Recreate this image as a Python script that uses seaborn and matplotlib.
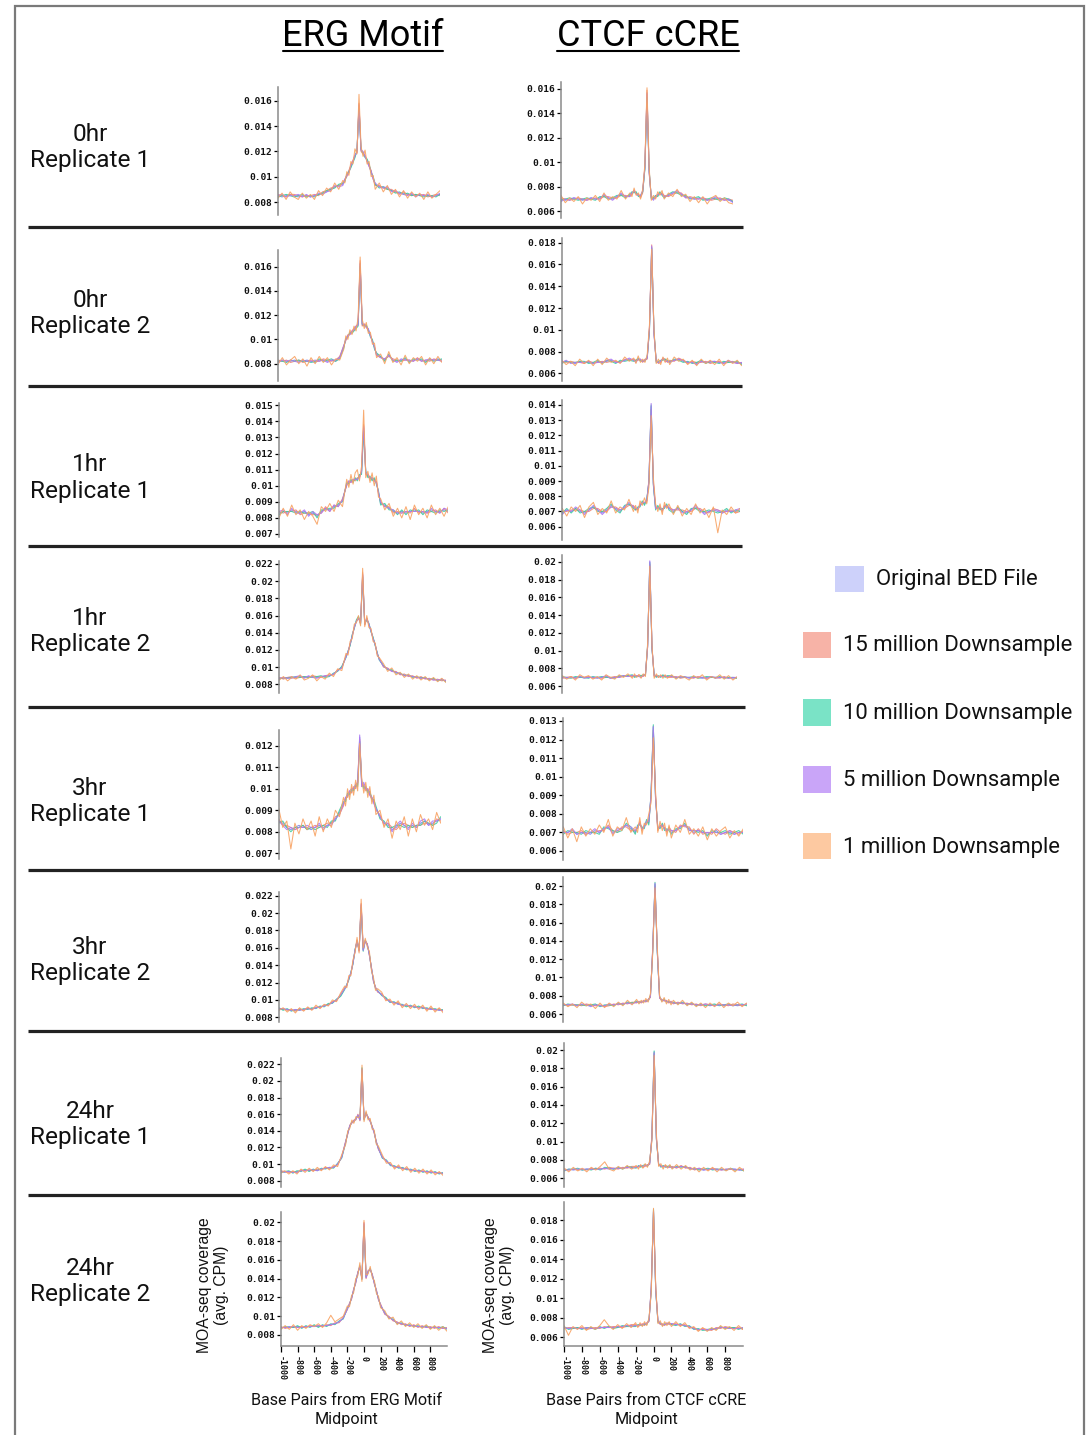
import numpy as np
import pandas as pd
import matplotlib
matplotlib.use("Agg")
import matplotlib.pyplot as plt
from matplotlib.patches import Rectangle
from matplotlib.ticker import FixedLocator, FuncFormatter
import seaborn as sns

# ---------------------------------------------------------------- data
# x positions (base pairs from midpoint)
BP = [-1000, -950, -900, -850, -800, -750, -700, -650, -600, -550, -500, -450, -400, -350, -300, -250,
      -200, -175, -150, -125, -100, -75, -50, -25, 0, 25, 50, 75, 100, 125, 150, 175, 200,
      250, 300, 350, 400, 450, 500, 550, 600, 650, 700, 750, 800, 850, 900, 950, 1000]

SERIES = ["Original BED File", "15 million Downsample", "10 million Downsample",
          "5 million Downsample", "1 million Downsample"]

ROW_LABELS = ["0hr\nReplicate 1", "0hr\nReplicate 2", "1hr\nReplicate 1", "1hr\nReplicate 2",
              "3hr\nReplicate 1", "3hr\nReplicate 2", "24hr\nReplicate 1", "24hr\nReplicate 2"]
COL_TITLES = ["ERG Motif", "CTCF cCRE"]
X_TICKS = [-1000, -800, -600, -400, -200, 0, 200, 400, 600, 800]
Y_LABEL = "MOA-seq coverage\n(avg. CPM)"
X_LABELS = ["Base Pairs from ERG Motif\nMidpoint", "Base Pairs from CTCF cCRE\nMidpoint"]

# coverage values, in units of 1e-4 CPM; order: Original, 15M, 10M, 5M, 1M
ERG_0HR_R1 = [
    [85,84,85,86,85,84,85,85,84,85,86,87,88,90,92,93, 94,97,101,104,108,112,116,120,156,121,119,116,113,109,104,99,94, 92,92,91,89,88,87,87,86,86,85,86,85,85,84,85,86],
    [86,85,84,86,86,85,84,85,85,86,85,88,89,91,92,93, 95,98,100,105,109,113,117,119,158,120,118,117,112,108,105,98,93, 93,91,90,90,88,86,88,86,85,86,85,86,84,85,86,85],
    [84,85,86,85,84,85,86,84,85,84,86,87,89,90,91,94, 95,96,102,104,107,111,115,121,154,122,118,115,114,110,103,100,94, 91,92,90,89,87,88,86,87,85,86,85,84,85,85,84,86],
    [85,86,84,85,85,86,84,86,84,85,87,86,88,89,93,92, 93,98,101,103,109,112,117,119,157,121,120,116,112,108,104,98,95, 92,91,92,88,89,87,86,85,87,84,86,85,86,84,85,87],
    [83,87,82,88,84,82,87,83,86,82,89,85,91,88,95,90, 97,95,104,101,112,110,122,118,165,124,116,121,110,112,100,101,90, 95,88,93,86,90,84,89,83,88,84,87,82,88,83,86,89],
]
CTCF_0HR_R1 = [
    [70,69,70,71,70,69,70,71,70,71,73,71,70,72,74,72, 73,75,76,75,73,72,76,95,157,93,71,70,72,73,75,74,72, 73,75,76,74,72,71,70,71,70,69,70,71,70,70,69,68],
    [71,70,69,70,71,70,69,70,71,70,72,72,71,71,73,73, 72,74,77,74,74,71,75,96,159,91,72,71,71,74,74,75,73, 72,74,75,75,71,72,71,70,71,70,69,70,71,69,70,69],
    [69,70,71,70,69,70,71,70,69,72,72,70,71,73,73,71, 74,76,75,76,72,73,76,94,153,94,70,71,73,72,76,73,71, 74,76,75,73,73,70,71,72,69,70,71,70,69,71,70,68],
    [68,70,69,71,70,70,69,71,70,70,74,71,69,72,75,72, 72,75,77,74,73,73,77,96,156,92,71,69,72,74,74,74,72, 73,75,77,74,71,71,70,70,71,69,70,72,70,69,70,67],
    [73,67,71,68,72,66,71,69,73,68,75,69,72,70,77,70, 75,72,79,73,75,70,78,98,161,96,69,73,70,76,73,77,70, 75,72,78,72,74,68,72,67,72,66,71,73,68,71,67,66],
]
ERG_0HR_R2 = [
    [82,83,82,82,83,82,82,83,82,81,83,83,82,83,82,85, 94,100,103,105,106,108,110,112,163,112,112,111,108,103,99,93,88, 86,83,87,83,82,83,84,82,83,84,83,82,83,83,84,83],
    [83,82,83,81,82,83,81,82,83,82,82,84,83,82,83,86, 95,99,104,104,107,109,111,113,165,111,113,110,107,104,98,94,87, 85,84,86,84,83,82,83,83,82,85,82,83,82,84,83,82],
    [82,82,81,83,82,83,82,82,81,82,84,82,83,84,82,84, 93,101,102,106,105,107,109,111,160,113,111,112,108,102,100,92,89, 86,82,88,82,83,82,85,81,84,83,84,81,84,82,83,84],
    [81,83,82,83,82,81,83,82,82,83,82,83,81,83,83,85, 95,100,103,104,107,108,111,112,162,113,112,110,109,103,98,94,87, 85,84,87,83,81,84,83,83,82,84,82,83,84,83,83,82],
    [80,85,79,83,86,80,84,78,85,80,86,81,85,79,84,83, 92,103,100,108,104,111,107,118,168,117,109,114,105,106,96,97,85, 88,80,90,81,85,79,87,80,85,82,86,79,85,80,86,81],
]
CTCF_0HR_R2 = [
    [70,71,70,69,71,70,70,69,71,70,71,72,70,71,72,73, 72,71,73,72,71,72,74,100,176,98,71,70,71,73,72,71,71, 72,73,71,70,70,69,71,70,70,71,70,70,71,70,70,69],
    [71,70,71,70,70,69,71,70,70,71,70,71,71,70,73,72, 73,72,72,73,70,73,73,102,178,97,72,69,70,74,73,70,72, 71,74,72,69,71,70,70,71,69,70,71,69,70,71,69,70],
    [69,71,70,70,71,71,69,70,72,69,72,71,69,72,71,72, 71,72,74,71,72,71,75,99,175,99,70,71,72,72,73,72,70, 73,72,70,71,69,70,72,69,71,70,69,71,70,70,71,68],
    [70,72,69,70,70,70,71,69,70,70,72,73,70,70,72,74, 72,70,73,73,71,72,74,101,177,96,71,70,71,74,71,71,70, 72,73,72,70,70,68,71,70,71,71,70,69,72,70,69,70],
    [72,68,71,67,73,69,72,67,73,68,74,70,72,69,75,71, 74,69,76,70,73,70,77,104,174,101,69,73,68,75,70,74,68, 75,71,73,68,72,67,73,69,72,68,73,67,72,69,72,67],
]
ERG_1HR_R1 = [
    [83,84,83,85,84,83,84,82,83,81,84,86,85,87,88,91, 101,102,103,103,104,104,106,108,136,108,106,105,104,104,102,96,89, 88,86,84,83,84,83,84,85,84,83,84,85,84,84,85,84],
    [84,83,84,84,85,82,83,83,82,82,83,87,84,88,87,92, 100,103,102,104,103,105,105,109,138,107,107,104,105,103,103,95,90, 87,87,83,84,83,84,83,86,83,84,83,84,85,83,86,83],
    [82,84,84,84,83,84,83,83,84,80,85,85,86,86,89,90, 102,101,104,102,105,103,107,107,134,109,105,106,103,105,101,97,88, 89,85,85,82,85,82,85,84,85,82,85,84,83,85,84,85],
    [84,85,82,86,83,83,85,81,84,82,83,86,84,88,87,91, 101,103,102,104,104,104,105,109,137,108,107,105,105,103,102,96,90, 87,86,85,83,83,84,84,84,84,84,83,86,84,83,86,85],
    [80,86,81,88,82,85,79,84,81,76,87,84,89,84,91,87, 104,99,107,101,108,110,103,112,147,105,109,102,108,100,106,93,92, 85,89,81,86,80,87,79,88,82,86,80,88,82,86,81,87],
]
CTCF_1HR_R1 = [
    [69,71,70,72,70,69,71,73,71,69,71,74,72,70,73,75, 73,71,72,74,76,75,77,90,139,88,72,73,72,71,73,74,72, 70,72,70,69,71,73,71,69,70,71,70,69,71,70,70,71],
    [70,70,71,71,71,70,70,72,72,70,70,73,73,71,72,74, 74,72,71,75,75,76,76,91,137,89,73,72,73,70,74,73,73, 71,71,71,70,70,72,72,70,69,72,71,70,70,71,69,70],
    [69,72,69,72,69,70,72,73,70,70,72,75,71,69,74,75, 72,71,73,73,77,74,78,89,140,87,71,74,71,72,72,75,71, 69,73,70,68,72,72,70,70,71,70,69,70,72,69,71,70],
    [68,71,70,73,71,68,71,74,71,68,71,73,72,71,73,76, 73,72,72,74,76,76,77,90,141,88,72,72,73,71,73,74,72, 71,72,69,70,71,74,71,68,70,71,71,69,70,70,71,72],
    [72,67,73,70,74,66,73,76,68,72,69,77,69,73,71,78, 70,74,69,77,74,79,75,86,133,92,75,70,75,68,76,72,75, 68,74,67,72,68,75,69,72,66,73,56,71,68,73,69,72],
]
ERG_1HR_R2 = [
    [87,87,88,88,88,89,88,89,89,88,89,89,90,92,96,100, 112,118,126,137,146,154,158,151,207,150,156,150,142,134,126,116,109, 101,98,96,94,92,91,90,89,88,88,87,86,86,85,85,84],
    [88,86,88,89,87,88,89,88,90,89,88,90,91,91,97,99, 113,117,127,136,147,153,157,152,210,149,157,149,143,133,127,115,110, 100,99,95,95,91,92,89,90,87,89,86,87,85,86,84,85],
    [86,88,87,88,89,88,89,88,88,89,90,88,89,93,95,101, 111,119,125,138,145,155,159,150,205,151,155,151,141,135,125,117,108, 102,97,97,93,93,90,91,88,89,87,88,85,87,84,86,83],
    [87,88,87,87,89,90,87,90,88,87,89,90,90,92,96,99, 112,118,127,136,146,153,157,151,208,150,157,150,142,133,126,116,109, 101,98,95,94,92,90,90,89,88,87,87,86,85,85,86,84],
    [85,89,84,88,86,91,85,87,91,84,89,86,93,89,98,96, 116,114,130,133,150,152,160,148,215,147,160,146,145,130,128,113,111, 104,95,99,91,94,88,92,86,90,85,89,84,88,83,87,82],
]
CTCF_1HR_R2 = [
    [70,69,70,70,71,69,70,70,69,70,71,69,70,71,72,71, 72,71,72,72,71,72,73,105,200,103,72,71,71,71,72,71,71, 71,70,70,71,69,70,70,69,70,71,69,70,70,70,69,70],
    [69,70,71,69,70,70,71,69,70,69,70,70,71,70,71,72, 71,72,71,73,72,71,74,104,197,104,71,72,70,72,71,72,70, 70,71,69,70,70,69,71,70,69,70,70,69,71,69,70,69],
    [71,70,69,71,70,70,69,71,70,71,70,70,69,72,71,72, 73,70,71,71,72,73,72,106,199,102,73,70,72,70,73,70,72, 72,69,71,70,70,71,69,70,71,70,70,71,69,70,70,69],
    [70,70,70,69,71,70,70,70,70,70,72,69,70,70,72,71, 72,72,72,71,70,72,73,104,201,103,72,72,71,71,71,72,71, 71,70,71,70,70,70,70,70,69,71,70,70,70,69,70,70],
    [72,68,71,67,73,70,72,68,71,67,73,70,68,73,70,74, 69,74,70,73,69,74,71,108,195,106,69,74,70,73,69,73,69, 73,68,72,70,67,72,69,73,67,71,69,73,68,72,67,71],
]
ERG_3HR_R1 = [
    [85,84,82,81,82,83,82,82,81,82,83,82,83,84,86,89, 93,95,97,98,99,100,101,102,124,102,101,100,99,98,96,94,91, 87,84,83,81,82,84,83,82,83,82,84,85,83,84,85,86],
    [86,83,83,82,81,82,83,81,82,83,82,83,84,84,87,88, 92,96,96,99,98,101,100,103,123,101,102,99,100,97,95,94,90, 88,83,84,82,81,83,84,83,82,83,83,84,84,83,86,85],
    [84,85,82,80,82,82,83,81,82,81,82,83,82,85,85,90, 94,94,98,97,100,99,102,101,122,103,100,101,98,99,95,95,92, 86,85,82,82,83,83,82,83,82,83,83,85,84,83,84,87],
    [85,83,81,82,81,82,82,83,82,82,84,81,83,83,86,88, 93,96,97,99,100,100,102,103,125,101,103,100,100,97,96,93,91, 87,84,84,80,83,85,83,81,84,82,85,86,83,85,85,86],
    [91,82,85,72,84,79,86,81,85,78,87,80,86,82,90,87, 96,92,100,95,102,97,104,99,121,105,98,103,96,101,93,97,88, 90,82,86,77,85,81,87,78,86,80,88,83,86,81,89,84],
]
CTCF_3HR_R1 = [
    [70,70,71,69,70,70,69,71,70,72,73,70,71,72,74,72, 70,73,75,72,73,76,75,90,127,89,72,73,74,72,71,72,70, 71,73,74,72,70,71,70,69,70,71,69,70,70,69,70,70],
    [71,69,70,70,71,69,70,70,71,71,74,71,70,73,73,71, 71,72,76,71,74,75,76,89,125,90,71,74,73,73,70,73,71, 70,74,73,73,69,72,69,70,69,72,70,69,71,70,69,71],
    [69,71,70,70,69,71,70,70,69,73,72,71,70,71,75,73, 69,74,74,73,72,77,74,91,128,88,73,72,75,71,72,71,69, 72,72,75,71,71,70,71,68,71,70,70,71,69,70,71,69],
    [70,70,72,69,70,69,70,72,70,72,73,69,72,72,74,73, 71,73,75,72,73,76,76,90,127,88,72,73,74,72,71,72,71, 71,73,74,71,71,71,70,70,70,70,69,70,71,69,70,70],
    [73,67,72,65,73,68,72,69,74,70,77,68,73,71,78,70, 73,70,78,69,75,74,80,86,121,92,70,76,71,75,68,74,67, 74,70,77,69,72,68,73,66,72,68,71,73,67,71,68,72],
]
ERG_3HR_R2 = [
    [90,89,89,88,88,89,89,90,90,91,92,93,95,97,100,105, 113,117,124,131,142,157,168,157,209,157,168,164,152,137,122,114,110, 106,102,98,97,96,94,93,93,92,92,91,90,90,89,89,88],
    [89,90,88,89,87,90,88,91,89,92,91,94,94,98,99,106, 114,116,125,130,143,156,169,156,211,158,167,165,151,138,121,115,109, 107,101,99,96,97,93,94,92,93,91,92,89,91,88,90,87],
    [91,88,90,87,89,88,90,89,91,90,93,92,96,96,101,104, 112,118,123,132,141,158,167,158,207,156,169,163,153,136,123,113,111, 105,103,97,98,95,95,92,94,91,93,90,91,89,90,88,89],
    [90,90,89,88,89,88,89,90,89,91,92,93,94,97,100,106, 113,117,125,131,142,157,168,157,210,157,168,164,152,137,122,114,110, 106,101,98,97,95,94,94,93,92,91,91,90,89,89,88,88],
    [88,91,86,90,85,91,87,92,88,94,90,95,93,100,98,108, 116,114,128,128,146,154,172,154,216,160,171,161,156,134,126,111,113, 109,99,101,94,99,91,96,90,95,89,94,87,93,86,91,85],
]
CTCF_3HR_R2 = [
    [70,70,70,69,70,70,69,70,69,69,70,70,71,71,72,72, 73,73,73,74,74,75,79,130,202,128,78,75,75,74,73,73,72, 72,72,71,71,70,70,70,69,70,70,69,70,70,69,70,70],
    [71,69,70,70,69,71,70,69,70,68,69,71,70,72,71,73, 72,74,72,75,73,76,78,132,200,130,77,76,74,75,72,74,71, 73,71,72,70,71,69,71,70,69,71,70,69,71,70,69,71],
    [69,71,70,70,70,69,70,71,68,70,70,69,72,70,73,72, 74,72,74,73,75,74,80,128,204,127,79,74,76,73,74,72,73, 71,73,70,72,69,71,69,70,71,69,70,71,69,70,71,69],
    [70,70,71,69,71,70,68,70,69,69,71,70,71,71,72,71, 73,73,73,74,74,75,79,131,203,129,78,75,75,74,73,73,72, 72,72,71,71,70,70,71,70,69,70,70,70,69,70,70,71],
    [72,68,71,67,73,69,71,66,72,67,72,68,73,69,75,70, 76,71,75,72,77,73,82,126,198,133,80,73,78,71,76,70,75, 70,75,69,73,68,72,67,72,68,73,67,72,69,73,68,72],
]
ERG_24HR_R1 = [
    [91,90,91,90,91,92,93,92,93,93,94,95,95,96,100,108, 127,137,146,150,152,154,159,153,215,154,161,156,152,145,138,127,119, 108,104,99,97,96,95,94,93,92,92,91,91,90,90,89,89],
    [92,91,90,91,90,93,92,93,92,94,93,96,94,97,99,109, 128,136,147,149,153,153,160,152,213,155,160,157,151,146,137,128,118, 109,103,100,96,97,94,95,92,93,91,92,90,91,89,90,88],
    [90,91,92,89,92,91,94,91,94,92,95,94,96,95,101,107, 126,138,145,151,151,155,158,154,216,153,162,155,153,144,139,126,120, 107,105,98,98,95,96,93,94,91,93,90,92,89,91,88,90],
    [91,91,91,90,90,92,92,93,93,92,94,95,96,96,100,108, 127,137,146,150,152,154,159,153,214,154,161,156,152,145,138,127,119, 108,104,99,97,96,95,94,93,92,92,91,91,90,90,89,89],
    [89,92,88,92,88,94,90,95,91,96,92,97,93,99,97,111, 124,140,143,153,149,157,156,157,219,151,164,153,155,142,141,124,122, 111,101,102,94,99,92,97,90,95,89,94,88,93,87,91,86],
]
CTCF_24HR_R1 = [
    [69,70,69,70,69,70,70,71,70,71,71,70,71,71,72,72, 72,73,73,73,74,74,76,105,198,103,75,73,73,73,72,73,72, 72,73,72,71,70,70,69,70,70,69,70,69,70,70,69,69],
    [70,69,70,69,70,69,71,70,71,70,72,71,70,72,71,73, 73,72,74,72,73,75,75,107,196,104,74,74,72,74,73,72,73, 71,74,71,72,69,71,70,69,71,70,69,70,70,69,70,70],
    [68,70,70,71,69,70,69,71,69,72,71,70,72,70,73,72, 71,74,72,74,75,73,77,103,199,102,76,72,74,72,73,74,71, 73,72,73,70,71,69,70,71,69,70,70,69,71,69,70,68],
    [69,69,70,70,70,70,70,70,70,71,70,71,71,71,72,71, 72,73,74,73,74,74,76,104,197,104,75,73,73,73,72,72,72, 72,73,72,71,70,71,69,70,70,70,69,70,70,70,69,70],
    [71,67,72,68,71,67,72,69,73,78,70,68,73,70,74,70, 74,70,75,71,76,72,79,101,194,108,73,76,70,75,71,75,70, 75,70,74,69,72,67,72,68,72,67,72,68,71,67,72,68],
]
ERG_24HR_R2 = [
    [88,88,89,88,89,88,89,89,90,89,90,90,91,92,94,98, 108,113,119,128,136,146,153,140,198,141,148,150,144,135,127,118,112, 103,99,96,93,92,91,90,90,89,89,89,88,88,88,88,87],
    [89,87,88,89,88,89,88,90,89,90,89,91,90,93,93,99, 107,114,118,129,135,147,152,141,200,140,149,149,145,134,128,117,113, 102,100,95,94,91,92,89,91,88,90,88,89,87,89,87,88],
    [87,89,88,88,90,87,90,88,91,88,91,89,92,91,95,97, 109,112,120,127,137,145,154,139,196,142,147,151,143,136,126,119,111, 104,98,97,92,93,90,91,89,90,88,90,87,89,87,89,86],
    [88,88,88,89,88,88,89,89,89,90,90,90,91,92,94,98, 108,113,119,128,136,146,153,140,199,141,148,150,144,135,127,118,112, 103,99,96,93,92,91,90,90,89,89,88,88,88,88,87,87],
    [86,90,86,91,85,90,87,91,89,92,88,93,101,94,97,100, 111,110,122,125,140,143,157,137,202,144,145,153,141,138,124,121,109, 106,97,99,91,95,89,93,88,92,87,91,86,90,85,89,84],
]
CTCF_24HR_R2 = [
    [70,69,69,70,69,69,70,69,70,70,71,70,70,71,72,72, 72,72,73,73,73,74,77,110,190,108,76,74,73,73,74,74,74, 73,73,72,71,69,68,68,67,68,69,70,70,69,70,69,69],
    [69,70,70,69,70,68,69,70,69,71,70,71,71,70,71,73, 73,71,72,74,72,75,76,112,188,109,77,73,74,72,75,73,73, 74,72,73,70,70,67,69,68,67,70,69,71,70,69,70,68],
    [71,68,69,70,68,70,70,68,71,69,71,69,70,72,71,71, 71,73,73,72,74,73,78,108,191,107,75,75,72,74,73,75,73, 72,74,71,72,68,69,67,68,69,68,71,69,70,70,68,70],
    [70,69,70,69,69,70,69,69,70,70,70,70,71,71,72,71, 72,72,73,73,74,74,77,111,189,108,76,74,73,73,74,74,74, 73,73,72,71,69,68,68,68,68,69,70,70,69,69,69,70],
    [72,62,71,68,72,67,71,68,72,78,72,68,73,69,74,70, 75,70,75,71,76,72,80,106,192,112,74,77,71,76,72,76,71, 76,71,75,69,71,66,70,66,70,67,72,68,71,67,72,68],
]

# ---------------------------------------------------------------- style / layout
LINE_COLORS = ["#7d84ee", "#f08676", "#3fcc9f", "#ac78f3", "#f8a262"]
LEGEND_COLORS = ["#cdd1fa", "#f7b3a7", "#7ae3c6", "#c9a5f8", "#fdc9a1"]

# (left, right, top, bottom) in px, then two tick anchors (value, px) and tick step
LAYOUT = [
    [(278.0, 440.0, 87.0, 215.0, 0.016, 100.7, 0.008, 202.0, 0.002),
     (561.0, 733.0, 82.0, 218.0, 0.016, 89.0, 0.006, 211.3, 0.002)],
    [(278.3, 442.0, 250.0, 381.0, 0.016, 266.7, 0.008, 363.7, 0.002),
     (561.7, 741.7, 238.3, 381.0, 0.018, 242.7, 0.006, 373.3, 0.002)],
    [(279.0, 448.3, 403.3, 536.7, 0.015, 405.3, 0.007, 534.0, 0.001),
     (562.3, 740.0, 400.0, 540.0, 0.014, 405.0, 0.006, 526.7, 0.001)],
    [(279.3, 446.0, 560.7, 693.3, 0.022, 564.0, 0.008, 684.3, 0.002),
     (562.3, 737.3, 555.0, 693.3, 0.020, 561.7, 0.006, 686.3, 0.002)],
    [(278.7, 440.7, 730.0, 859.0, 0.012, 745.7, 0.007, 853.3, 0.001),
     (563.3, 743.3, 718.3, 860.0, 0.013, 721.0, 0.006, 851.0, 0.001)],
    [(279.0, 443.3, 891.7, 1021.7, 0.022, 895.7, 0.008, 1017.3, 0.002),
     (563.3, 746.7, 876.7, 1021.7, 0.020, 886.0, 0.006, 1014.0, 0.002)],
    [(280.7, 443.3, 1058.3, 1186.7, 0.022, 1064.3, 0.008, 1180.7, 0.002),
     (564.3, 744.0, 1043.3, 1186.7, 0.020, 1050.0, 0.006, 1178.3, 0.002)],
    [(281.0, 447.0, 1211.7, 1346.0, 0.020, 1222.3, 0.008, 1335.0, 0.002),
     (564.0, 743.0, 1201.7, 1346.0, 0.018, 1220.0, 0.006, 1337.3, 0.002)],
]
PANEL_DATA = [
    (ERG_0HR_R1, CTCF_0HR_R1), (ERG_0HR_R2, CTCF_0HR_R2),
    (ERG_1HR_R1, CTCF_1HR_R1), (ERG_1HR_R2, CTCF_1HR_R2),
    (ERG_3HR_R1, CTCF_3HR_R1), (ERG_3HR_R2, CTCF_3HR_R2),
    (ERG_24HR_R1, CTCF_24HR_R1), (ERG_24HR_R2, CTCF_24HR_R2),
]
ROW_CENTERS = [147.5, 313.5, 478, 631.5, 801.5, 960.5, 1124.5, 1281.5]
SEP_Y = [227, 386, 545.5, 707, 870, 1031, 1195]
SEP_RIGHT = [743, 742, 742, 745, 748, 745, 745]

sns.set_theme(style="white")
plt.rcParams['font.family'] = ['Roboto', 'DejaVu Sans']
MONO = 'DejaVu Sans Mono'

W, H = 1091, 1435
fig = plt.figure(figsize=(W / 100, H / 100), dpi=100)

ov = fig.add_axes([0, 0, 1, 1])
ov.set_xlim(0, W)
ov.set_ylim(H, 0)
ov.axis('off')
ov.patch.set_alpha(0)

# border
ov.plot([14.5, 14.5, 1083.5, 1083.5], [H + 5, 6, 6, H + 5], color='#7a7a7a', lw=1.6,
        solid_joinstyle='miter')

# column titles with underline
for title, cx, (ux0, ux1) in zip(COL_TITLES, [363, 648], [(283, 443), (557, 739)]):
    ov.text(cx, 46.5, title, ha='center', va='baseline', fontsize=26, color='black')
    ov.plot([ux0, ux1], [51, 51], color='black', lw=1.5)

# row labels
for lab, cy in zip(ROW_LABELS, ROW_CENTERS):
    ov.text(90, cy, lab, ha='center', va='center', fontsize=17.6, linespacing=1.2, color='#111')

# separators
for y, xr in zip(SEP_Y, SEP_RIGHT):
    ov.plot([28, xr], [y, y], color='#222222', lw=2.3, solid_capstyle='butt')

# legend
legend_pos = [(835, 876), (802.5, 843), (802.5, 843), (802.5, 843), (802.5, 843)]
legend_cy = [579, 645, 712.5, 779.5, 846]
for name, col, (sx, tx), cy in zip(SERIES, LEGEND_COLORS, legend_pos, legend_cy):
    ov.add_patch(Rectangle((sx, cy - 13.2), 28.5, 26.4, facecolor=col, edgecolor='none'))
    ov.text(tx, cy + 1, name, ha='left', va='center', fontsize=15.9, color='#111')

fmt = FuncFormatter(lambda v, p: f"{v:.3f}".rstrip('0'))

for r, (pair, lay_pair) in enumerate(zip(PANEL_DATA, LAYOUT)):
    for c, (data, lay) in enumerate(zip(pair, lay_pair)):
        left, right, top, bottom, vhi, phi, vlo, plo, step = lay
        ax = fig.add_axes([left / W, 1 - bottom / H, (right - left) / W, (bottom - top) / H])
        ax.patch.set_alpha(0)
        rows = []
        for name, vals in zip(SERIES, data):
            assert len(vals) == len(BP), (r, c, name, len(vals))
            for x, v in zip(BP, vals):
                rows.append((x, v * 1e-4, name))
        df = pd.DataFrame(rows, columns=['bp', 'cov', 'series'])
        sns.lineplot(data=df, x='bp', y='cov', hue='series', hue_order=SERIES,
                     palette=dict(zip(SERIES, LINE_COLORS)), ax=ax, legend=False,
                     linewidth=0.75, alpha=0.9, errorbar=None, estimator=None)
        s = (vhi - vlo) / (plo - phi)
        ax.set_xlim(-1000, 1000)
        ax.set_ylim(vlo - (bottom - plo) * s, vhi + (phi - top) * s)
        ax.set_xlabel('')
        ax.set_ylabel('')
        nt = int(round((vhi - vlo) / step)) + 1
        ax.yaxis.set_major_locator(FixedLocator([vlo + i * step for i in range(nt)]))
        ax.yaxis.set_major_formatter(fmt)
        for sp in ['top', 'right']:
            ax.spines[sp].set_visible(False)
        ax.spines['left'].set_color('#8a8a8a')
        ax.spines['left'].set_linewidth(1.1)
        ax.tick_params(axis='y', which='both', left=True, direction='out', length=3, width=0.9,
                       color='black', labelsize=6.8, pad=1.2, labelcolor='#111',
                       labelfontfamily=MONO)
        for t in ax.get_yticklabels():
            t.set_fontweight('bold')
        if r == len(PANEL_DATA) - 1:
            ax.spines['bottom'].set_color('#8a8a8a')
            ax.spines['bottom'].set_linewidth(1.1)
            ax.set_xticks(X_TICKS)
            ax.set_xticklabels([str(t) for t in X_TICKS], rotation=270,
                               fontweight='bold')
            ax.tick_params(axis='x', bottom=True, direction='out', length=4.5, width=0.9,
                           color='black', labelsize=6.0, pad=2.5, labelcolor='#111',
                           labelfontfamily=MONO)
        else:
            ax.spines['bottom'].set_visible(False)
            ax.set_xticks([])

# axis labels of the bottom row
for cx in [213, 499]:
    ov.text(cx, 1285, Y_LABEL, ha='center', va='center', rotation=90, fontsize=11.3,
            family=['Liberation Sans', 'DejaVu Sans'], linespacing=1.2, color='#111')
for cx, lab in zip([347, 646], X_LABELS):
    ov.text(cx, 1410, lab, ha='center', va='center', fontsize=11.6, linespacing=1.3, color='#111')

fig.savefig('out.png', dpi=100)
